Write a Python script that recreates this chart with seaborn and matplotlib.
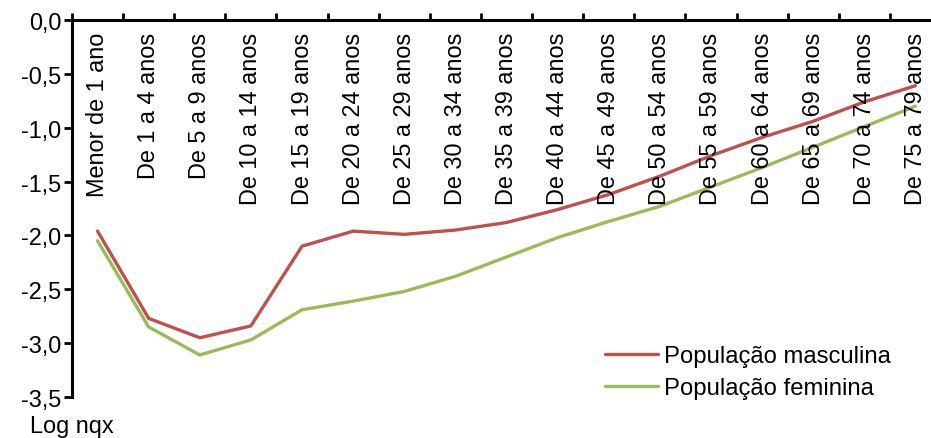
import matplotlib
matplotlib.use("Agg")
import matplotlib.pyplot as plt
from matplotlib.ticker import FuncFormatter, FixedLocator
from matplotlib.lines import Line2D
import seaborn as sns
import pandas as pd

faixas = ["Menor de 1 ano", "De 1 a 4 anos", "De 5 a 9 anos", "De 10 a 14 anos",
          "De 15 a 19 anos", "De 20 a 24 anos", "De 25 a 29 anos", "De 30 a 34 anos",
          "De 35 a 39 anos", "De 40 a 44 anos", "De 45 a 49 anos", "De 50 a 54 anos",
          "De 55 a 59 anos", "De 60 a 64 anos", "De 65 a 69 anos", "De 70 a 74 anos",
          "De 75 a 79 anos"]
masculina = [-1.96, -2.77, -2.95, -2.84, -2.10, -1.96, -1.99, -1.95, -1.88, -1.76,
             -1.62, -1.45, -1.26, -1.09, -0.94, -0.76, -0.61]
feminina = [-2.05, -2.85, -3.11, -2.97, -2.69, -2.61, -2.52, -2.38, -2.20, -2.02,
            -1.87, -1.73, -1.55, -1.37, -1.18, -0.99, -0.80]
series = ["População masculina", "População feminina"]
cores = ["#C0504D", "#9BBB59"]

df = pd.DataFrame({
    "pos": list(range(len(faixas))) * 2,
    "valor": masculina + feminina,
    "serie": [series[0]] * len(faixas) + [series[1]] * len(faixas),
})

sns.set_style("white")
plt.rcParams["font.family"] = ["Liberation Sans", "DejaVu Sans"]
plt.rcParams["text.color"] = "black"
plt.rcParams["ytick.labelcolor"] = "black"
FS = 16.9
LW = 2.4

W, H = 931, 439
fig = plt.figure(figsize=(W / 100, H / 100), dpi=100)
left, right, top, bottom = 72, 941, 21, 398
ax = fig.add_axes([left / W, 1 - bottom / H, (right - left) / W, (bottom - top) / H])

sns.lineplot(data=df, x="pos", y="valor", hue="serie", hue_order=series,
             palette=cores, linewidth=LW, ax=ax, legend=False)

ax.set_xlim(-0.5, len(faixas) - 0.5)
ax.set_ylim(-3.5, 0.0)
ax.set_xlabel("")
ax.set_ylabel("")

# spines: only left and top, the category axis sits at y = 0
for s in ["right", "bottom"]:
    ax.spines[s].set_visible(False)
for s in ["left", "top"]:
    ax.spines[s].set_color("black")
    ax.spines[s].set_linewidth(2.2)

ax.yaxis.set_major_locator(FixedLocator([-3.5, -3.0, -2.5, -2.0, -1.5, -1.0, -0.5, 0.0]))
ax.yaxis.set_major_formatter(FuncFormatter(lambda v, p: f"{v:.1f}".replace(".", ",")))
ax.tick_params(axis="y", direction="out", length=5.5, width=2, color="black",
               labelsize=FS, labelcolor="black", pad=2, left=True)

ax.xaxis.tick_top()
ax.set_xticks([i - 0.5 for i in range(len(faixas) + 1)])
ax.set_xticklabels([])
ax.tick_params(axis="x", direction="out", length=5, width=2, color="black", top=True, bottom=False)

# category labels rotated inside the plot, hanging below the top axis
label_y = 1 - (33 - top) / (bottom - top)
for i, nome in enumerate(faixas):
    ax.text(i, label_y, nome, transform=ax.get_xaxis_transform(), rotation=90,
            ha="center", va="top", fontsize=FS, color="black")

fig.text(30 / W, 1 - 427 / H, "Log nqx", fontsize=FS, ha="left", va="center", color="black")

handles = [Line2D([], [], color=c, linewidth=LW) for c in cores]
leg = fig.legend(handles, series, loc="upper left", bbox_to_anchor=(605 / W, 1 - 346 / H),
                 frameon=False, fontsize=17.2, handlelength=2.2, handletextpad=0.25,
                 labelspacing=0.42, borderaxespad=0, borderpad=0)
for t in leg.get_texts():
    t.set_color("black")

fig.savefig("out.png", dpi=100)
